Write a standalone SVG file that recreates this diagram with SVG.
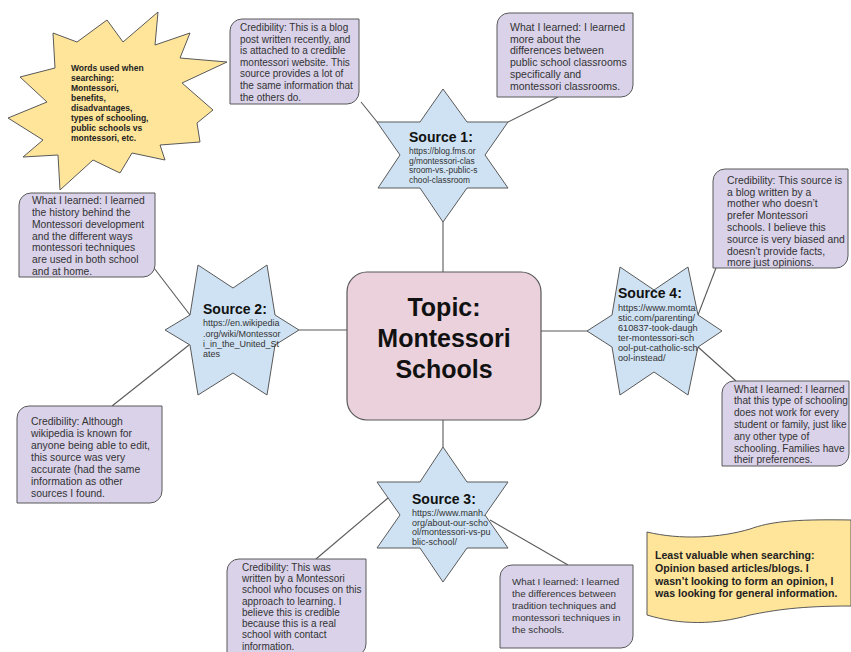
<svg xmlns="http://www.w3.org/2000/svg" width="851" height="652" viewBox="0 0 851 652">
<style>
.box{fill:#d9d2e9;stroke:#595959;stroke-width:1}
.star{fill:#cfe2f3;stroke:#595959;stroke-width:1}
.yel{fill:#ffe599;stroke:#595959;stroke-width:1}
.topic{fill:#ead1dc;stroke:#595959;stroke-width:1.2}
.conn line{stroke:#595959;stroke-width:1.1}
text{font-family:"Liberation Sans",Arial,sans-serif}
.bt{fill:#333}
.st{font-size:14px;font-weight:bold;fill:#111}
.url{fill:#333}
.bold{font-weight:bold;fill:#222}
</style>
<rect width="851" height="652" fill="#fff"/>
<g class="conn" id="connectors">
<line x1="443" y1="222" x2="443" y2="272"/>
<line x1="443" y1="420" x2="443" y2="447"/>
<line x1="299" y1="330" x2="347" y2="330"/>
<line x1="541" y1="331" x2="587" y2="331"/>
<line x1="361" y1="102" x2="378" y2="123"/>
<line x1="508" y1="122" x2="558" y2="97"/>
<line x1="154" y1="268" x2="190" y2="315"/>
<line x1="112" y1="406" x2="189" y2="345"/>
<line x1="716" y1="268" x2="698" y2="315"/>
<line x1="698" y1="347" x2="736" y2="381"/>
<line x1="316" y1="559" x2="388" y2="498"/>
<line x1="490" y1="520" x2="568" y2="565"/>
</g>
<g id="keywords">
<polygon class="yel" points="53,33 77,42 107,20 123,42 158,12 155,45 190,33 180,58 227,62 182,83 213,110 197,123 200,142 160,145 165,160 132,153 120,173 93,160 60,190 58,155 23,157 43,140 8,118 47,102 20,77 55,68"/>
<text class="bold" font-size="8.5"><tspan x="71" y="71">Words used when</tspan><tspan x="71" y="81">searching:</tspan><tspan x="71" y="91">Montessori,</tspan><tspan x="71" y="101">benefits,</tspan><tspan x="71" y="111">disadvantages,</tspan><tspan x="71" y="121">types of schooling,</tspan><tspan x="71" y="131">public schools vs</tspan><tspan x="71" y="141">montessori, etc.</tspan></text>
</g>
<g id="topic">
<rect class="topic" x="347" y="272" width="194" height="148" rx="20"/>
<text font-size="25" font-weight="bold" fill="#111" text-anchor="middle"><tspan x="444" y="316">Topic:</tspan><tspan x="444" y="347">Montessori</tspan><tspan x="444" y="378">Schools</tspan></text>
</g>
<g id="source1">
<polygon class="star" points="443,89 467,122 508,122 485,155 508,188 467,188 443,222 420,188 378,188 400,155 377,122 420,122"/>
<text class="st" x="409" y="142">Source 1:</text>
<text class="url" font-size="8.4"><tspan x="409" y="154">https://blog.fms.or</tspan><tspan x="409" y="163.5">g/montessori-clas</tspan><tspan x="409" y="173">sroom-vs.-public-s</tspan><tspan x="409" y="182.5">chool-classroom</tspan></text>
</g>
<g id="source2">
<polygon class="star" points="198,265 233,288 267,265 275,315 299,330 275,345 267,395 233,373 198,395 190,345 165,330 190,315"/>
<text class="st" x="203" y="314">Source 2:</text>
<text class="url" font-size="9"><tspan x="203" y="326.3">https://en.wikipedia</tspan><tspan x="203" y="336.6">.org/wiki/Montessor</tspan><tspan x="203" y="346.9">i_in_the_United_St</tspan><tspan x="203" y="357.2">ates</tspan></text>
</g>
<g id="source3">
<polygon class="star" points="443,447 467,482 508,482 485,515 508,548 467,548 443,582 420,548 377,548 400,515 377,482 420,482"/>
<text class="st" x="412" y="504">Source 3:</text>
<text class="url" font-size="9"><tspan x="412" y="516.2">https://www.manh.</tspan><tspan x="412" y="525.7">org/about-our-scho</tspan><tspan x="412" y="535.2">ol/montessori-vs-pu</tspan><tspan x="412" y="544.7">blic-school/</tspan></text>
</g>
<g id="source4">
<polygon class="star" points="620,267 654,290 688,267 698,315 722,331 698,347 688,395 654,372 620,395 612,347 587,331 612,315"/>
<text class="st" x="618" y="298">Source 4:</text>
<text class="url" font-size="9.2"><tspan x="618" y="311.2">https://www.momta</tspan><tspan x="618" y="321.2">stic.com/parenting/</tspan><tspan x="618" y="331.2">610837-took-daugh</tspan><tspan x="618" y="341.2">ter-montessori-sch</tspan><tspan x="618" y="351.2">ool-put-catholic-sch</tspan><tspan x="618" y="361.2">ool-instead/</tspan></text>
</g>
<g id="cred1">
<path class="box" d="M242,19 H359 V92 A12,12 0 0 1 347,104 H230 V31 A12,12 0 0 1 242,19 Z"/>
<text class="bt" font-size="10"><tspan x="240" y="31">Credibility: This is a blog</tspan><tspan x="240" y="42.6">post written recently, and</tspan><tspan x="240" y="54.2">is attached to a credible</tspan><tspan x="240" y="65.8">montessori website. This</tspan><tspan x="240" y="77.4">source provides a lot of</tspan><tspan x="240" y="89">the same information that</tspan><tspan x="240" y="100.6">the others do.</tspan></text>
</g>
<g id="learn1">
<path class="box" d="M509,13 H633 V85 A12,12 0 0 1 621,97 H497 V25 A12,12 0 0 1 509,13 Z"/>
<text class="bt" font-size="10.5"><tspan x="510" y="30.7">What I learned: I learned</tspan><tspan x="510" y="42.5">more about the</tspan><tspan x="510" y="54.3">differences between</tspan><tspan x="510" y="66.1">public school classrooms</tspan><tspan x="510" y="77.9">specifically and</tspan><tspan x="510" y="89.7">montessori classrooms.</tspan></text>
</g>
<g id="learn2">
<path class="box" d="M31,193 H155 V265 A12,12 0 0 1 143,277 H19 V205 A12,12 0 0 1 31,193 Z"/>
<text class="bt" font-size="10.3"><tspan x="32" y="204.2">What I learned: I learned</tspan><tspan x="32" y="216">the history behind the</tspan><tspan x="32" y="227.8">Montessori development</tspan><tspan x="32" y="239.6">and the different ways</tspan><tspan x="32" y="251.4">montessori techniques</tspan><tspan x="32" y="263.2">are used in both school</tspan><tspan x="32" y="275">and at home.</tspan></text>
</g>
<g id="cred2">
<path class="box" d="M29,406 H162 V491 A12,12 0 0 1 150,503 H17 V418 A12,12 0 0 1 29,406 Z"/>
<text class="bt" font-size="10.4"><tspan x="31" y="424.7">Credibility: Although</tspan><tspan x="31" y="436.7">wikipedia is known for</tspan><tspan x="31" y="448.7">anyone being able to edit,</tspan><tspan x="31" y="460.7">this source was very</tspan><tspan x="31" y="472.7">accurate (had the same</tspan><tspan x="31" y="484.7">information as other</tspan><tspan x="31" y="496.7">sources I found.</tspan></text>
</g>
<g id="cred4">
<path class="box" d="M725,169 H848 V256 A12,12 0 0 1 836,268 H713 V181 A12,12 0 0 1 725,169 Z"/>
<text class="bt" font-size="10.4"><tspan x="727" y="183.7">Credibility: This source is</tspan><tspan x="727" y="195.5">a blog written by a</tspan><tspan x="727" y="207.3">mother who doesn’t</tspan><tspan x="727" y="219.1">prefer Montessori</tspan><tspan x="727" y="230.9">schools. I believe this</tspan><tspan x="727" y="242.7">source is very biased and</tspan><tspan x="727" y="254.5">doesn’t provide facts,</tspan><tspan x="727" y="266.3">more just opinions.</tspan></text>
</g>
<g id="learn4">
<path class="box" d="M734,381 H849 V454 A12,12 0 0 1 837,466 H722 V393 A12,12 0 0 1 734,381 Z"/>
<text class="bt" font-size="10.1"><tspan x="734" y="392.6">What I learned: I learned</tspan><tspan x="734" y="404.4">that this type of schooling</tspan><tspan x="734" y="416.2">does not work for every</tspan><tspan x="734" y="428">student or family, just like</tspan><tspan x="734" y="439.8">any other type of</tspan><tspan x="734" y="451.6">schooling. Families have</tspan><tspan x="734" y="463.4">their preferences.</tspan></text>
</g>
<g id="cred3">
<path class="box" d="M239,559 H366 V644 A12,12 0 0 1 354,656 H227 V571 A12,12 0 0 1 239,559 Z"/>
<text class="bt" font-size="10"><tspan x="242" y="570.6">Credibility: This was</tspan><tspan x="242" y="581.9">written by a Montessori</tspan><tspan x="242" y="593.2">school who focuses on this</tspan><tspan x="242" y="604.5">approach to learning. I</tspan><tspan x="242" y="615.8">believe this is credible</tspan><tspan x="242" y="627.1">because this is a real</tspan><tspan x="242" y="638.4">school with contact</tspan><tspan x="242" y="649.7">information.</tspan></text>
</g>
<g id="learn3">
<path class="box" d="M512,565 H633 V636 A12,12 0 0 1 621,648 H500 V577 A12,12 0 0 1 512,565 Z"/>
<text class="bt" font-size="9.8"><tspan x="512" y="584.5">What I learned: I learned</tspan><tspan x="512" y="596.7">the differences between</tspan><tspan x="512" y="608.9">tradition techniques and</tspan><tspan x="512" y="621.1">montessori techniques in</tspan><tspan x="512" y="633.3">the schools.</tspan></text>
</g>
<g id="least">
<path class="yel" d="M647,532 C680,540 720,538 750,529 C770,522 790,519 851,520 L851,606 C800,606 775,610 750,615 C715,625 680,625 647,615 Z"/>
<text class="bold" font-size="10.6"><tspan x="655" y="559">Least valuable when searching:</tspan><tspan x="655" y="572">Opinion based articles/blogs. I</tspan><tspan x="655" y="585">wasn’t looking to form an opinion, I</tspan><tspan x="655" y="597">was looking for general information.</tspan></text>
</g>
</svg>
